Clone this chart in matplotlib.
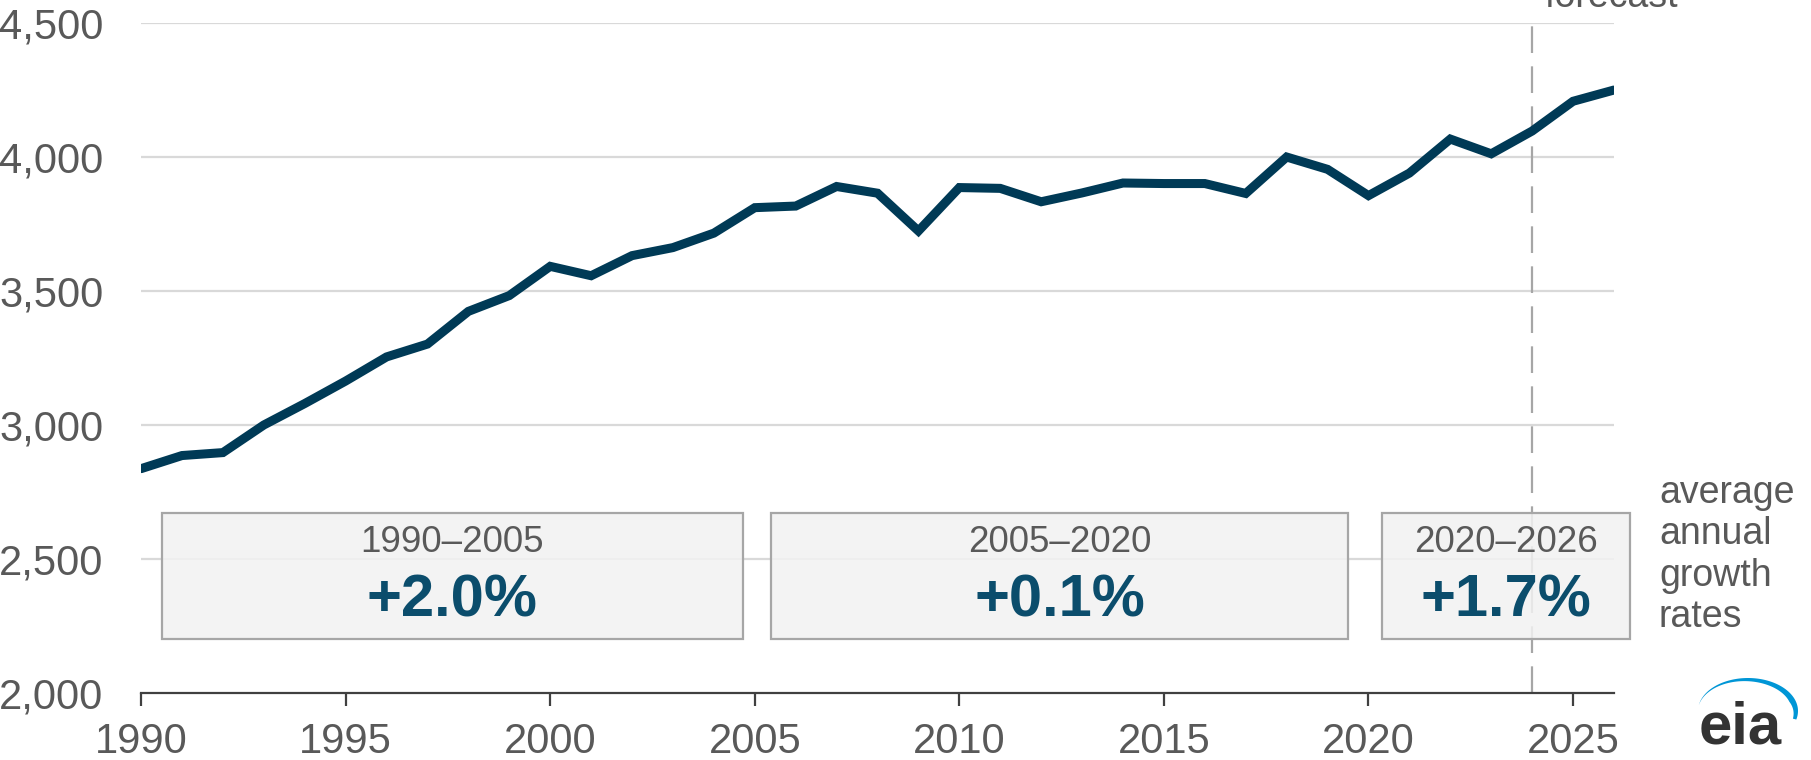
import numpy as np
import matplotlib
matplotlib.use("Agg")
import matplotlib.pyplot as plt
from matplotlib.patches import Rectangle, Polygon

plt.rcParams["font.family"] = ["Liberation Sans", "DejaVu Sans"]

# ==========================================
# data
# ==========================================
years = list(range(1990, 2027))
values = [
    2837, 2886, 2897, 3000, 3080, 3164, 3254, 3302, 3424, 3483,
    3592, 3557, 3632, 3662, 3716, 3811, 3817, 3890, 3865, 3724,
    3886, 3883, 3833, 3866, 3903, 3901, 3901, 3864, 4000, 3954,
    3856, 3940, 4067, 4012, 4097, 4208, 4250,
]
forecast_start = 2024

period_labels = ["1990\u20132005", "2005\u20132020", "2020\u20132026"]
period_rates = ["+2.0%", "+0.1%", "+1.7%"]

yticks = [2000, 2500, 3000, 3500, 4000, 4500]
ytick_labels = ["2,000", "2,500", "3,000", "3,500", "4,000", "4,500"]
xticks = [1990, 1995, 2000, 2005, 2010, 2015, 2020, 2025]

# box extents (layout only)
box_spans = [(1990.5, 2004.7), (2005.4, 2019.5), (2020.33, 2026.4)]
box_y0, box_y1 = 2200, 2670

LINE_COLOR = "#003a56"
RATE_COLOR = "#0b4d6c"
GREY_TEXT = "#595959"

# ==========================================
# figure
# ==========================================
fig = plt.figure(figsize=(18.11, 7.6), dpi=100)
ax = fig.add_axes([0.0779, 0.0882, 0.8133, 0.8815])
ax.set_xlim(1990, 2026)
ax.set_ylim(2000, 4500)

for y in yticks[1:]:
    ax.axhline(y, color="#d9d9d9", lw=1.6, zorder=1)

ax.plot([forecast_start, forecast_start], [2000, 4500], color="#a6a6a6",
        lw=1.6, linestyle=(0, (12, 6)), zorder=2, clip_on=False)
ax.text(forecast_start + 0.3, 4560, "forecast", fontsize=27, color=GREY_TEXT,
        ha="left", va="baseline", clip_on=False)

ax.plot(years, values, color=LINE_COLOR, lw=6.5, solid_joinstyle="miter",
        solid_capstyle="round", zorder=4)

for (x0, x1), lab, rate in zip(box_spans, period_labels, period_rates):
    ax.add_patch(Rectangle((x0, box_y0), x1 - x0, box_y1 - box_y0,
                           facecolor="#f2f2f2", alpha=0.85, edgecolor="none",
                           zorder=3, clip_on=False))
    ax.add_patch(Rectangle((x0, box_y0), x1 - x0, box_y1 - box_y0,
                           facecolor="none", edgecolor="#a6a6a6", lw=1.6,
                           zorder=3, clip_on=False))
    xc = (x0 + x1) / 2
    ax.text(xc, 2560, lab, fontsize=26.5, color=GREY_TEXT, ha="center",
            va="center", zorder=5, clip_on=False)
    ax.text(xc, 2345, rate, fontsize=43, color=RATE_COLOR, weight="bold",
            ha="center", va="center", zorder=5, clip_on=False)

ax.text(2027.1, 2515, "average\nannual\ngrowth\nrates", fontsize=27,
        color=GREY_TEXT, ha="left", va="center", linespacing=1.2,
        clip_on=False)

# axes styling
for s in ["top", "right", "left"]:
    ax.spines[s].set_visible(False)
ax.spines["bottom"].set_color("#404040")
ax.spines["bottom"].set_linewidth(1.6)
ax.spines["bottom"].set_zorder(6)

ax.set_yticks(yticks)
ax.set_yticklabels(ytick_labels)
ax.tick_params(axis="y", length=0, pad=27, labelsize=30, labelcolor=GREY_TEXT)
ax.set_xticks(xticks)
ax.set_xticklabels([str(x) for x in xticks])
ax.tick_params(axis="x", direction="out", length=9, width=1.6, color="#404040",
               pad=12, labelsize=30, labelcolor=GREY_TEXT)

# ==========================================
# eia logo (figure pixel coords)
# ==========================================
W, H = 1811, 760
t = np.linspace(np.radians(-15), np.radians(170), 80)
cx, cy, rx, ry = 1748, 711, 50, 33
w = np.interp(t, [t[0], np.radians(20), t[-1]], [3.5, 6.0, 0.0])
outer = [(cx + rx * np.cos(a), cy - ry * np.sin(a)) for a in t]
inner = [(cx + (rx - d) * np.cos(a), cy - (ry - d) * np.sin(a))
         for a, d in zip(t[::-1], w[::-1])]
pts = [(x / W, 1 - y / H) for x, y in outer + inner]
fig.patches.append(Polygon(pts, closed=True, transform=fig.transFigure,
                           facecolor="#0096d6", edgecolor="none"))
fig.text(1740 / W, 1 - 744 / H, "eia", fontsize=43, weight="bold",
         color="#333333", ha="center", va="baseline")

fig.savefig("out.png", dpi=100)
